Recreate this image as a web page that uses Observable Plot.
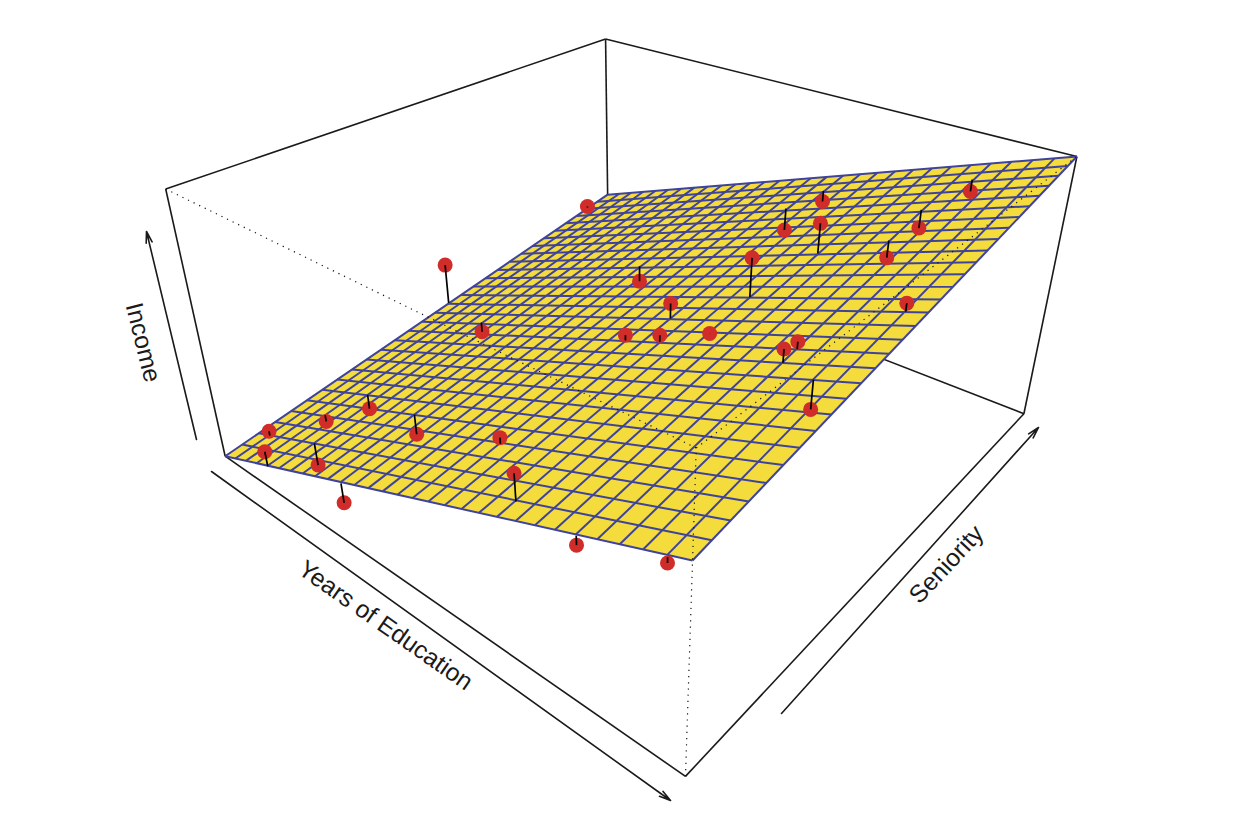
<!doctype html><html><head><meta charset="utf-8"><style>html,body{margin:0;background:#fff}svg{display:block}</style></head><body><div id="chart"></div>
<script src="https://cdn.jsdelivr.net/npm/d3@7"></script>
<script src="https://cdn.jsdelivr.net/npm/@observablehq/plot@0.6"></script>
<script>
// Observations
const education=[10.45,11.68,11.24,11.65,13.73,12.09,14.18,16.64,18.30,19.96,21.62,9.94,14.51,17.03,16.61,17.43,18.31,18.27,16.57,18.67,17.00,20.36,20.36,21.18,19.91,19.90,21.60,20.31,9.97,12.03];
const seniority=[31.4,19.8,43.5,54.8,48.9,31.5,19.6,42.7,25.4,19.7,19.5,176.6,130.3,101.0,89.4,89.6,94.3,112.4,165.3,135.8,176.5,83.4,89.2,77.7,141.9,159.4,106.6,176.9,107.0,95.6];
const income=[18.7,27.9,20.9,22.1,31.3,17.6,29.1,57.0,70.6,67.2,78.0,39.5,51.6,72.9,64.9,70.1,73.8,90.5,67.5,93.9,76.3,88.2,87.2,78.2,85.6,88.1,97.8,95.9,44.1,33.3];
// Axis ranges and the fitted surface: income at its four corners
const eduRange=[10,22], senRange=[20,187], incRange=[12.3,111.9];
const surfaceIncome=[12.3,82.0,41.2,111.9]; // (edu lo, sen lo) (edu hi, sen lo) (edu lo, sen hi) (edu hi, sen hi)
const gridLines=30;
// Camera of the perspective view
const camera=[264.28697,590.47543,-80.37604,224.67036,98.12351,-117.99593,-291.04174,455.71362,-0.28617,0.34091,-0.12658,1];
// Annotation
const labels=["Years of Education","Seniority","Income"];
const labelX=[385,946,142.5], labelY=[625,564,342], labelRotate=[35,-47,76];
const arrowX1=[211,781,196], arrowY1=[471,713,439], arrowX2=[670,1038,146], arrowY2=[800,427,231];
const W=1236,H=814;

const project=(u,v,t)=>{const p=camera,w=p[8]*u+p[9]*v+p[10]*t+p[11];
  return [(p[0]*u+p[1]*v+p[2]*t+p[3])/w,(p[4]*u+p[5]*v+p[6]*t+p[7])/w];};
const nE=d=>(d-eduRange[0])/(eduRange[1]-eduRange[0]);
const nS=d=>(d-senRange[0])/(senRange[1]-senRange[0]);
const nI=d=>(d-incRange[0])/(incRange[1]-incRange[0]);
const [s00,s10,s01,s11]=surfaceIncome.map(nI);
const planeAt=(u,v)=>s00*(1-u)*(1-v)+s10*u*(1-v)+s01*(1-u)*v+s11*u*v;
const onPlane=(u,v)=>project(u,v,planeAt(u,v));

const seg=(a,b)=>{const p=project(...a),q=project(...b);return {x1:p[0],y1:p[1],x2:q[0],y2:q[1]};};
const solid=[[[0,0,0],[1,0,0]],[[1,0,0],[1,1,0]],[[1,1,0],[0,1,0]],[[0,1,0],[0,0,0]],[[0,0,1],[0,1,1]],[[0,1,1],[1,1,1]],[[0,0,0],[0,0,1]],[[0,1,0],[0,1,1]],[[1,1,0],[1,1,1]]].map(d=>seg(d[0],d[1]));
const dotted=[[[0,0,1],[1,0,1]],[[1,0,1],[1,1,1]],[[1,0,0],[1,0,1]]].map(d=>seg(d[0],d[1]));
const planeOutline=[[0,0],[1,0],[1,1],[0,1]].map(([u,v])=>{const q=onPlane(u,v);return {x:q[0],y:q[1]};});
const steps=d3.range(gridLines).map(i=>i/(gridLines-1));
const grid=[];
for(const s of steps){
  const a=onPlane(s,0),b=onPlane(s,1),c=onPlane(0,s),d=onPlane(1,s);
  grid.push({x1:a[0],y1:a[1],x2:b[0],y2:b[1]},{x1:c[0],y1:c[1],x2:d[0],y2:d[1]});
}
const obs=education.map((e,i)=>{const u=nE(e),v=nS(seniority[i]);
  const t=project(u,v,nI(income[i])),f=onPlane(u,v);
  return {x:t[0],y:t[1],fx:f[0],fy:f[1]};});
const lab=labels.map((text,i)=>({text,x:labelX[i],y:labelY[i],rotate:labelRotate[i]}));
const arrows=labels.map((_,i)=>({x1:arrowX1[i],y1:arrowY1[i],x2:arrowX2[i],y2:arrowY2[i]}));
const ink="#1a1a1a";
const chart=Plot.plot({width:W,height:H,margin:0,
  style:{background:"#fff"},
  x:{domain:[0,W],range:[0,W],axis:null},
  y:{domain:[0,H],range:[0,H],axis:null},
  marks:[
    Plot.link(solid,{x1:"x1",y1:"y1",x2:"x2",y2:"y2",stroke:ink,strokeWidth:1.6}),
    Plot.line(planeOutline,{x:"x",y:"y",fill:"#f3dc3c",stroke:"none"}),
    Plot.link(grid,{x1:"x1",y1:"y1",x2:"x2",y2:"y2",stroke:"#3f439c",strokeWidth:2}),
    Plot.dot(obs,{x:"x",y:"y",r:7.5,fill:"#d02c2a",stroke:"none"}),
    Plot.link(dotted,{x1:"x1",y1:"y1",x2:"x2",y2:"y2",stroke:"#111",strokeWidth:1.2,strokeDasharray:"1.2,5"}),
    Plot.link(obs,{x1:"x",y1:"y",x2:"fx",y2:"fy",stroke:"#000",strokeWidth:1.7}),
    Plot.arrow(arrows,{x1:"x1",y1:"y1",x2:"x2",y2:"y2",bend:0,stroke:ink,strokeWidth:1.6,headLength:11,headAngle:30}),
    Plot.text(lab,{x:"x",y:"y",text:"text",rotate:"rotate",fontSize:24.7,fontFamily:"Liberation Sans, Arial, sans-serif",fill:ink})
  ]});
document.getElementById("chart").append(chart);
</script></body></html>
